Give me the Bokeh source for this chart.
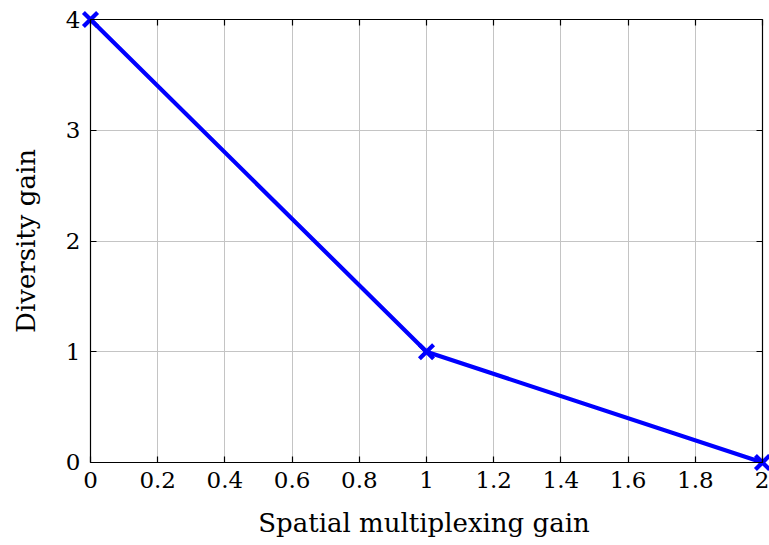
from bokeh.plotting import figure
from bokeh.models import LinearAxis, FixedTicker, Range1d
from bokeh.embed import file_html
from bokeh.resources import INLINE

# Diversity-multiplexing tradeoff curve
multiplexing_gain = [0, 1, 2]
diversity_gain = [4, 1, 0]

x_ticks = [0, 0.2, 0.4, 0.6, 0.8, 1, 1.2, 1.4, 1.6, 1.8, 2]
y_ticks = [0, 1, 2, 3, 4]
x_lim = (0, 2)
y_lim = (0, 4)

FONT = "DejaVu Serif"

# The frame is a little larger than the axis box so the end markers are not cut
# off; the box itself is drawn by axes pinned with fixed_location.
p = figure(width=769, height=545, output_backend="svg", toolbar_location=None,
           x_range=Range1d(-0.0357, 2.0208), y_range=Range1d(-0.1084, 4.1084),
           x_axis_location=None, y_axis_location=None)
p.min_border_left = 78
p.min_border_right = 0
p.min_border_top = 7
p.min_border_bottom = 71
p.outline_line_color = None
p.background_fill_color = "white"
p.border_fill_color = "white"


def box_axis(ticks, bounds, loc):
    """Axis line with inward ticks, pinned to an edge of the data box."""
    ax = LinearAxis(ticker=FixedTicker(ticks=ticks), bounds=bounds,
                    fixed_location=loc)
    ax.major_tick_in = 6
    ax.major_tick_out = 0
    ax.minor_tick_in = 0
    ax.minor_tick_out = 0
    ax.axis_line_color = "black"
    ax.axis_line_width = 1.2
    ax.major_tick_line_color = "black"
    ax.major_tick_line_width = 1.2
    ax.major_label_text_font_size = "0px"
    ax.major_label_text_alpha = 0
    ax.major_label_standoff = 0
    return ax


def label_axis(ticks, label):
    """Axis that only carries the tick labels and the axis title."""
    ax = LinearAxis(ticker=FixedTicker(ticks=ticks))
    ax.axis_line_color = None
    ax.major_tick_line_color = None
    ax.minor_tick_line_color = None
    ax.major_tick_in = 0
    ax.major_tick_out = 0
    ax.minor_tick_in = 0
    ax.minor_tick_out = 0
    ax.major_label_text_font = FONT
    ax.major_label_text_font_size = "23px"
    ax.major_label_text_color = "black"
    ax.axis_label = label
    ax.axis_label_text_font = FONT
    ax.axis_label_text_font_size = "26px"
    ax.axis_label_text_font_style = "normal"
    ax.axis_label_text_color = "black"
    return ax


bottom_labels = label_axis(x_ticks, "Spatial multiplexing gain")
bottom_labels.major_label_overrides = {0: "0", 1: "1", 2: "2"}
bottom_labels.major_label_standoff = -3
bottom_labels.axis_label_standoff = 17
left_labels = label_axis(y_ticks, "Diversity gain")
left_labels.major_label_orientation = "horizontal"
left_labels.major_label_standoff = -2
left_labels.axis_label_standoff = 22

p.add_layout(bottom_labels, "below")
p.add_layout(left_labels, "left")
p.add_layout(box_axis(x_ticks, x_lim, y_lim[0]), "below")
p.add_layout(box_axis(y_ticks, y_lim, x_lim[0]), "left")
p.add_layout(box_axis(x_ticks, x_lim, y_lim[1]), "above")
p.add_layout(box_axis(y_ticks, y_lim, x_lim[1]), "right")

p.xgrid.ticker = FixedTicker(ticks=x_ticks)
p.ygrid.ticker = FixedTicker(ticks=y_ticks)
p.xgrid.grid_line_color = "#c4c4c4"
p.ygrid.grid_line_color = "#c4c4c4"
p.xgrid.grid_line_width = 1
p.ygrid.grid_line_width = 1
p.xgrid.bounds = x_lim
p.ygrid.bounds = y_lim
if "cross_bounds" in p.xgrid[0].properties():
    p.xgrid.cross_bounds = y_lim
    p.ygrid.cross_bounds = x_lim

p.line(multiplexing_gain, diversity_gain, line_color="blue", line_width=4.2)
p.scatter(multiplexing_gain, diversity_gain, marker="x", size=20,
          line_color="blue", line_width=4.2)

open("out.html", "w").write(file_html(p, INLINE))
